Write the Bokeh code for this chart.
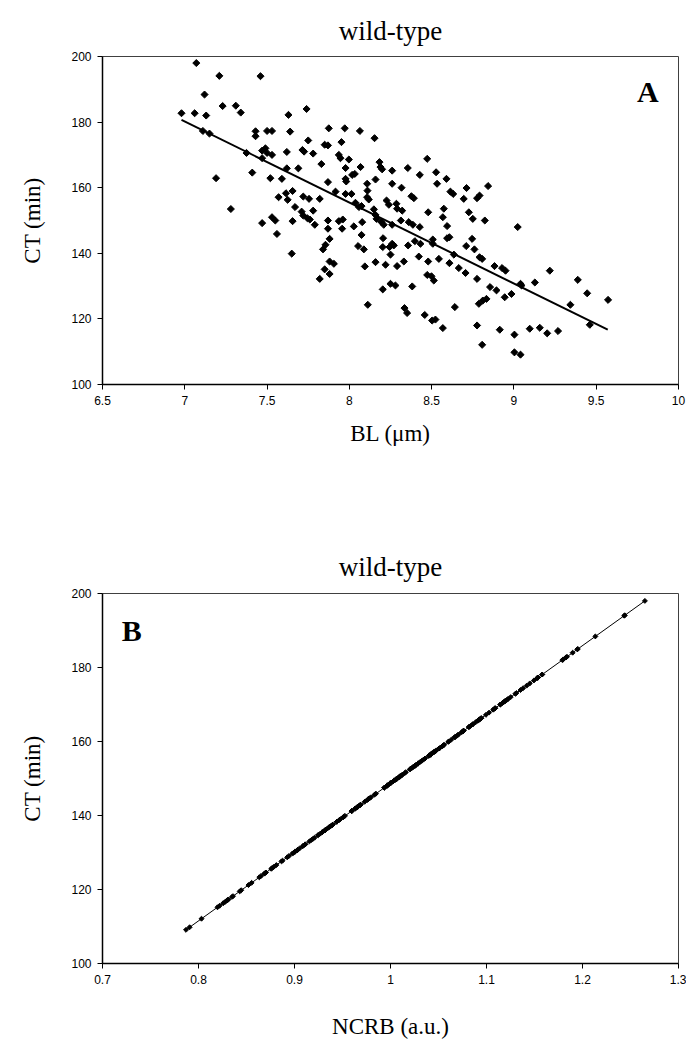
import numpy as np
from bokeh.plotting import figure
from bokeh.layouts import column
from bokeh.models import FixedTicker, Label
from bokeh.embed import file_html
from bokeh.resources import INLINE

# ---------------- data ----------------
bl = [7.07, 7.21, 7.46, 7.12, 7.23, 7.31, 7.34, 6.98, 7.06, 7.13, 7.63, 7.74, 7.43, 7.43, 7.50,
      7.53, 7.64, 7.11, 7.15, 7.875, 7.75, 7.85, 7.87, 7.375, 7.47, 7.49, 7.50, 7.53, 7.47, 7.62,
      7.715, 7.725, 7.78, 7.83, 7.41, 7.62, 7.69, 7.19, 7.52, 7.59,
      7.655, 7.57, 7.615, 7.625, 7.72, 7.755, 7.82, 7.87, 7.28, 7.67, 7.71, 7.78, 7.72, 7.745,
      7.76, 7.47, 7.53, 7.55, 7.655, 7.79, 7.87, 7.87, 7.56, 7.88, 7.855, 7.84, 7.65, 7.88,
      7.85, 7.88, 7.82,
      7.977, 7.981, 8.159, 8.108, 8.26, 8.317, 8.533, 8.59, 7.916, 7.977, 8.013, 8.11, 8.108,
      8.118, 8.377, 8.392, 8.614, 8.631, 8.712, 8.695, 8.776, 8.791, 8.843, 8.037, 8.058, 8.074,
      8.149, 8.226, 8.24, 8.286, 8.29, 8.321, 8.159, 8.165, 8.479, 8.574, 8.568, 8.726, 8.75,
      8.823, 7.936, 7.96, 7.956, 8.027, 8.078, 8.195, 8.209, 8.26, 8.313, 8.361, 8.386, 8.428,
      8.594, 8.074, 8.205, 8.26, 8.27, 8.244, 8.203, 8.357, 8.398, 8.432, 8.507, 8.507, 8.594,
      8.608, 8.746, 8.71, 8.76, 8.053, 8.088, 8.25, 8.422, 8.544, 8.635, 8.791, 8.807, 7.906,
      8.094, 8.159, 8.22, 8.29, 8.331, 8.479, 8.608, 8.665, 8.706, 8.473, 8.499, 8.513, 8.776,
      8.25, 8.28, 8.203, 8.382, 8.787, 8.811, 8.833, 8.112, 8.335, 8.351, 8.458, 8.503, 8.523,
      8.568, 8.641, 8.776, 8.807,
      9.023, 8.882, 8.928, 8.949, 9.218, 9.04, 9.046, 9.127, 9.388, 8.855, 8.894, 9.445, 9.572,
      8.944, 8.985, 9.343, 9.461, 8.914, 9.003, 9.096, 9.157, 9.202, 9.268, 9.003, 9.04,
      7.972, 8.064, 8.153, 7.952, 7.936, 7.946, 7.997, 8.183, 8.189, 8.199, 8.26, 8.355, 8.473,
      8.527, 8.428, 7.977, 8.017, 8.033, 8.068]
ct = [198.0, 194.1, 194.0, 188.4, 184.9, 185.0, 182.9, 182.7, 182.7, 182.0, 182.2, 184.0, 177.2,
      175.7, 177.3, 177.3, 177.1, 177.3, 176.5, 178.1, 174.4, 173.1, 172.9, 170.6, 171.3, 172.0,
      170.6, 170.0, 169.0, 170.9, 171.5, 171.0, 170.4, 167.2, 164.6, 165.9, 165.9, 162.9, 162.9,
      162.7,
      159.0, 157.1, 158.3, 156.3, 157.3, 156.6, 156.6, 161.7, 153.5, 154.1, 152.7, 153.0, 151.5,
      150.7, 150.3, 149.2, 151.0, 150.0, 149.8, 148.7, 150.0, 147.5, 145.9, 144.4, 142.6, 141.2,
      139.9, 137.5, 135.1, 133.7, 132.2,
      162.7, 161.9, 162.5, 161.2, 161.2, 160.0, 161.2, 162.7, 158.8, 158.1, 158.1, 159.1, 157.1,
      156.4, 157.4, 156.8, 158.8, 158.1, 159.9, 156.6, 156.8, 157.6, 160.5, 155.4, 154.1, 154.4,
      153.4, 156.1, 154.8, 155.1, 153.6, 153.0, 151.7, 150.5, 152.5, 153.6, 151.0, 152.5, 150.5,
      150.0, 149.8, 150.3, 147.5, 148.2, 149.5, 149.5, 148.7, 148.7, 150.0, 149.5, 148.7, 148.0,
      148.3, 145.6, 144.6, 142.9, 142.4, 141.9, 141.9, 142.4, 143.7, 142.9, 144.2, 142.9, 144.6,
      144.9, 144.4, 142.2, 141.2, 142.2, 141.2, 139.6, 139.0, 138.3, 139.6, 138.8, 138.3, 136.8,
      136.0, 137.3, 136.5, 136.1, 137.5, 137.5, 137.0, 135.5, 134.0, 133.4, 133.0, 131.7, 132.2,
      130.7, 130.2, 129.0, 129.9, 124.6, 125.6, 126.1, 124.3, 123.3, 121.8, 121.2, 119.5, 119.8,
      117.2, 123.6, 118.0, 112.1,
      148.0, 136.1, 135.5, 134.7, 134.7, 130.7, 130.2, 131.1, 131.9, 129.7, 128.7, 127.8, 125.8,
      126.6, 127.6, 124.3, 118.2, 116.7, 115.2, 117.0, 117.3, 115.6, 116.3, 109.8, 109.1,
      178.1, 177.3, 175.1, 173.9, 170.0, 169.0, 168.6, 167.8, 166.3, 165.6, 165.2, 166.0, 168.8,
      164.7, 163.9, 166.0, 163.9, 164.2, 166.3]

# regression line of panel A (end points)
fit_bl = [6.98, 9.57]
fit_ct = [180.7, 116.7]

# panel B: NCRB vs CT lies on a straight line; its ends
ncrb_ends = [0.787, 1.265]
ct_ends = [109.1, 198.0]
ncrb = [ncrb_ends[0] + (c - ct_ends[0]) * (ncrb_ends[1] - ncrb_ends[0]) / (ct_ends[1] - ct_ends[0]) for c in ct]

xticks_a = [6.5, 7, 7.5, 8, 8.5, 9, 9.5, 10]
xlabels_a = ["6.5", "7", "7.5", "8", "8.5", "9", "9.5", "10"]
xticks_b = [0.7, 0.8, 0.9, 1.0, 1.1, 1.2, 1.3]
xlabels_b = ["0.7", "0.8", "0.9", "1", "1.1", "1.2", "1.3"]
yticks = [100, 120, 140, 160, 180, 200]
ylabels = ["100", "120", "140", "160", "180", "200"]

SERIF = "Liberation Serif"
SANS = "Liberation Sans"


def style(p, xt, xl, xlabel):
    p.xgrid.visible = False
    p.ygrid.visible = False
    p.outline_line_color = "#404040"
    p.outline_line_width = 1
    p.xaxis.ticker = FixedTicker(ticks=xt)
    p.xaxis.major_label_overrides = {t: s for t, s in zip(xt, xl)}
    p.yaxis.ticker = FixedTicker(ticks=yticks)
    p.yaxis.major_label_overrides = {t: s for t, s in zip(yticks, ylabels)}
    for ax in (p.xaxis[0], p.yaxis[0]):
        ax.axis_line_color = "black"
        ax.axis_line_width = 1.5
        ax.major_tick_line_color = "black"
        ax.major_tick_line_width = 1
        ax.major_tick_out = 5
        ax.major_tick_in = 0
        ax.minor_tick_line_color = None
        ax.major_label_text_font = SANS
        ax.major_label_text_font_size = "12px"
        ax.major_label_text_color = "black"
        ax.axis_label_text_font = SERIF
        ax.axis_label_text_font_size = "23px"
        ax.axis_label_text_font_style = "normal"
        ax.axis_label_text_color = "black"
    p.xaxis.axis_label = xlabel
    p.yaxis.axis_label = "CT (min)"
    p.xaxis.major_label_standoff = 6
    p.yaxis.major_label_standoff = 6
    p.title.text_font = SERIF
    p.title.text_font_size = "27px"
    p.title.text_font_style = "normal"
    p.title.align = "center"
    p.title.text_color = "black"


pA = figure(frame_width=576, frame_height=328, x_range=(6.5, 10), y_range=(100, 200),
            title="wild-type", toolbar_location=None, output_backend="svg",
            min_border_left=102, min_border_right=8, min_border_top=56, min_border_bottom=96,
            background_fill_color="white", border_fill_color="white")
style(pA, xticks_a, xlabels_a, "BL (μm)")
pA.title.standoff = 21
pA.xaxis.axis_label_standoff = 13
pA.yaxis.axis_label_standoff = 23
pA.line(fit_bl, fit_ct, line_color="black", line_width=2)
pA.scatter(bl, ct, marker="square", size=5, angle=np.pi / 4, fill_color="black", line_color="black")
pA.add_layout(Label(x=9.88, y=189.3, text="A", text_font=SERIF, text_font_size="30px",
                    text_font_style="bold", text_color="black",
                    text_align="right", text_baseline="middle"))

pB = figure(frame_width=576, frame_height=370, x_range=(0.7, 1.3), y_range=(100, 200),
            title="wild-type", toolbar_location=None, output_backend="svg",
            min_border_left=102, min_border_right=8, min_border_top=113, min_border_bottom=83,
            background_fill_color="white", border_fill_color="white")
style(pB, xticks_b, xlabels_b, "NCRB (a.u.)")
pB.title.standoff = 24
pB.xaxis.axis_label_standoff = 27
pB.yaxis.axis_label_standoff = 23
pB.line(ncrb_ends, ct_ends, line_color="black", line_width=1)
pB.scatter(ncrb, ct, marker="square", size=3.5, angle=np.pi / 4, fill_color="black", line_color="black")
pB.add_layout(Label(x=0.72, y=190.0, text="B", text_font=SERIF, text_font_size="30px",
                    text_font_style="bold", text_color="black",
                    text_align="left", text_baseline="middle"))

layout = column(pA, pB, spacing=0)
open("out.html", "w").write(file_html(layout, INLINE))
